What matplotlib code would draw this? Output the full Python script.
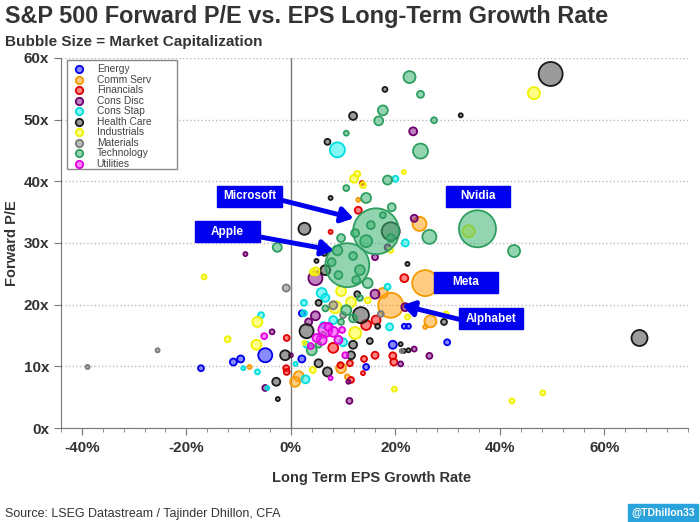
import numpy as np
import matplotlib.pyplot as plt
from matplotlib.patches import Rectangle
from matplotlib.ticker import MultipleLocator, FuncFormatter

plt.rcParams['font.family'] = ['Liberation Sans', 'DejaVu Sans']

# Donnees: croissance BPA long terme (%), P/E forward (x), capitalisation ($B)
sectors = ['Energy', 'Comm Serv', 'Financials', 'Cons Disc', 'Cons Stap',
           'Health Care', 'Industrials', 'Materials', 'Technology', 'Utilities']

energy_g = [-4.9, -17.2, -11.0, -9.6, 2.1, 2.1, 14.4, 19.5, 21.7, 22.5, 29.9]
energy_pe = [11.8, 9.7, 10.7, 11.2, 11.2, 18.6, 9.9, 13.5, 16.5, 16.5, 13.9]
energy_cap = [280, 50, 70, 70, 70, 50, 50, 90, 35, 35, 50]

comm_g = [25.7, 19.1, 24.6, 26.7, 25.7, 17.6, 1.5, 0.8, -7.9, 9.6, 10.8, 12.9]
comm_pe = [23.5, 19.9, 33.1, 17.3, 16.4, 21.9, 8.4, 7.5, 9.9, 9.7, 8.3, 37.0]
comm_cap = [960, 890, 280, 205, 23, 140, 140, 140, 23, 140, 35, 23]

fin_g = [12.9, 7.6, 21.7, 14.4, 16.3, -0.8, -0.9, -0.8, 8.1, 11.5, 16.1, 14.0,
         13.8, 19.5, 19.7, 11.3, 9.5, 13.6]
fin_pe = [35.3, 31.8, 24.3, 16.7, 17.5, 14.6, 9.7, 9.1, 13.0, 7.8, 11.8, 11.2,
          8.9, 11.7, 10.7, 10.5, 10.2, 39.7]
fin_cap = [70, 23, 90, 140, 115, 50, 50, 50, 140, 50, 70, 50,
           23, 70, 70, 50, 50, 23]

disc_g = [23.4, 23.6, -8.7, 4.7, 16.1, 16.1, 21.9, 4.7, -3.6, -4.9, 11.2, 23.6,
          26.5, 21.0, 11.0, 0.0, 18.5, 3.4]
disc_pe = [48.1, 34.0, 28.2, 24.3, 27.7, 21.7, 19.6, 18.2, 15.6, 6.5, 4.4, 12.8,
           11.7, 10.4, 7.5, 11.8, 29.3, 17.2]
disc_cap = [90, 70, 23, 280, 50, 115, 90, 115, 35, 50, 50, 35,
            50, 35, 23, 23, 50, 70]

stap_g = [8.9, 20.0, 21.9, 5.9, 6.6, 2.5, 18.9, -5.7, -9.1, -6.4, 2.8, 10.0,
          0.9, -4.5, 18.5, 2.5, 8.1, 6.2, 3.0]
stap_pe = [45.1, 40.4, 30.0, 21.9, 21.1, 20.3, 16.4, 18.3, 9.7, 9.1, 7.9, 13.9,
           10.4, 6.5, 22.9, 18.6, 17.5, 16.7, 13.5]
stap_cap = [320, 50, 70, 140, 90, 50, 70, 50, 23, 35, 90, 90,
            23, 23, 50, 50, 90, 50, 50]

hc_g = [49.7, 66.7, 18.0, 11.9, 32.5, 7.0, 7.6, 2.6, 19.1, 4.9, 6.6, 22.3,
        12.7, 5.3, 13.4, 3.0, -1.1, -2.8, -2.5, 7.0, 5.3, 11.9, 11.5, 15.1,
        16.6, 21.0, 21.6, 29.3, 22.5, 6.4]
hc_pe = [57.4, 14.6, 54.9, 50.6, 50.7, 46.4, 37.3, 32.3, 31.9, 27.1, 25.6, 26.6,
         21.7, 20.3, 18.3, 15.7, 11.8, 7.5, 4.7, 9.1, 10.5, 13.5, 11.8, 14.1,
         16.5, 13.6, 12.5, 17.2, 12.6, 28.4]
hc_cap = [820, 365, 35, 90, 23, 50, 23, 205, 460, 23, 140, 23,
          50, 50, 365, 280, 140, 90, 23, 115, 90, 90, 90, 50,
          35, 23, 23, 50, 23, 50]

ind_g = [46.5, 12.7, 12.1, 21.6, 19.1, -16.6, 4.7, 9.6, 8.5, 22.3, -6.4, -12.1,
         -6.6, 4.2, 12.3, 19.8, 42.3, 48.2, 29.7, 34.0, 11.5, 2.6, 4.2, 14.7, 13.8]
ind_pe = [54.3, 41.2, 40.4, 41.5, 28.8, 24.5, 25.4, 22.2, 19.6, 18.0, 17.2, 14.4,
          13.5, 9.4, 15.4, 6.3, 4.4, 5.7, 18.5, 31.9, 20.4, 13.8, 25.3, 20.7, 39.4]
ind_cap = [205, 50, 90, 23, 35, 35, 90, 140, 205, 35, 140, 50,
           140, 50, 205, 35, 35, 35, 35, 205, 140, 23, 50, 50, 50]

mat_g = [-0.9, -25.5, -38.9, 21.2, 8.1, 10.0, 6.2, 17.2]
mat_pe = [22.7, 12.6, 9.9, 12.5, 19.9, 18.3, 15.1, 18.5]
mat_cap = [70, 23, 23, 23, 90, 50, 50, 50]

tech_g = [16.3, 10.8, 35.7, 22.7, 24.8, 17.6, 16.8, 27.4, 10.6, 24.8, 18.5, 10.6,
          14.4, 19.3, 9.6, 26.5, 42.7, -2.6, 14.7, 14.4, 12.3, 8.9, 11.9, 13.2,
          9.1, 12.5, 7.8, 10.6, 11.9, 9.6, 4.0, 5.3, 13.2, 6.6, 15.3, 17.6, 19.1]
tech_pe = [31.9, 26.4, 32.3, 56.9, 54.1, 51.5, 49.8, 49.9, 47.8, 44.9, 40.2, 38.9,
           37.3, 35.8, 30.8, 31.0, 28.7, 29.3, 23.5, 30.3, 31.6, 28.8, 27.9, 25.6,
           24.8, 24.0, 26.9, 19.1, 17.8, 17.2, 12.6, 13.5, 21.1, 19.4, 32.9, 34.5, 30.8]
tech_cap = [3000, 2750, 1950, 205, 70, 140, 115, 50, 35, 320, 115, 50,
            140, 90, 90, 280, 205, 115, 140, 205, 90, 140, 90, 140,
            90, 90, 90, 140, 90, 50, 140, 50, 50, 50, 90, 50, 90]

util_g = [-5.1, 6.6, 8.1, 5.9, 7.2, 7.6, 10.4, 9.1, 4.9, 9.8, 3.8]
util_pe = [14.9, 15.9, 15.6, 14.3, 16.4, 8.1, 11.8, 14.3, 14.6, 15.9, 13.3]
util_cap = [50, 280, 140, 140, 90, 23, 50, 90, 90, 50, 50]

growth = [energy_g, comm_g, fin_g, disc_g, stap_g, hc_g, ind_g, mat_g, tech_g, util_g]
pe = [energy_pe, comm_pe, fin_pe, disc_pe, stap_pe, hc_pe, ind_pe, mat_pe, tech_pe, util_pe]
caps = [energy_cap, comm_cap, fin_cap, disc_cap, stap_cap, hc_cap, ind_cap, mat_cap, tech_cap, util_cap]

# couleurs: (remplissage, bord)
faces = ['#2a2aff', '#ffa31a', '#ff2020', '#8a1a8a', '#22f0f0',
         '#4a4a4a', '#ffff22', '#8a8a8a', '#3cb371', '#ff22ff']
edges = ['#0000ee', '#f59a00', '#e00000', '#6e006e', '#00dede',
         '#1a1a1a', '#f0f000', '#7a7a7a', '#2e9e60', '#e000e0']

# annotations: etiquette, centre boite, debut fleche, pointe fleche
callouts = [
    ('Microsoft', (-7.9, 37.6), (-1.6, 36.9), (12.0, 34.0)),
    ('Apple', (-12.1, 31.8), (-6.0, 31.0), (8.2, 28.8)),
    ('Nvidia', (35.8, 37.6), None, None),
    ('Meta', (33.5, 23.6), None, None),
    ('Alphabet', (38.3, 17.7), (32.8, 17.5), (21.3, 19.9)),
]

fig = plt.figure(figsize=(7, 5.22), dpi=100)
ax = fig.add_axes([0.087, 0.18, 0.896, 0.709])

for i, name in enumerate(sectors):
    s = np.array(caps[i]) * 0.364
    fc = list(plt.matplotlib.colors.to_rgba(faces[i], 0.55))
    ax.scatter(growth[i], pe[i], s=s, facecolors=[fc], edgecolors=edges[i],
               linewidths=1.3, zorder=3)
    ax.scatter([], [], s=28, facecolors=[fc], edgecolors=edges[i],
               linewidths=1.3, label=name)

ax.set_xlim(-44, 76)
ax.set_ylim(0, 60)
ax.axvline(0, color='#777777', lw=1, zorder=1)
ax.yaxis.set_major_locator(MultipleLocator(10))
ax.xaxis.set_major_locator(MultipleLocator(20))
ax.xaxis.set_minor_locator(MultipleLocator(4))
ax.yaxis.set_major_formatter(FuncFormatter(lambda v, p: f'{v:.0f}x'))
ax.xaxis.set_major_formatter(FuncFormatter(lambda v, p: f'{v:.0f}%'))
ax.grid(axis='y', color='#bbbbbb', linestyle=':', linewidth=1, zorder=0)
for sp in ['top', 'right']:
    ax.spines[sp].set_visible(False)
for sp in ['left', 'bottom']:
    ax.spines[sp].set_color('#777777')
ax.tick_params(axis='both', which='major', colors='#777777', labelcolor='#333333',
               labelsize=11, length=5)
ax.tick_params(axis='x', which='major', pad=4)
ax.tick_params(axis='x', which='minor', colors='#777777', length=3)
for lab in ax.get_xticklabels() + ax.get_yticklabels():
    lab.set_fontweight('bold')

# cadre de legende plus large que son contenu, comme dans l'original
ax.add_patch(Rectangle((0.0096, 0.70), 0.175, 0.2946, transform=ax.transAxes,
                       facecolor='white', edgecolor='#888888', lw=1, zorder=9))
leg = ax.legend(loc='upper left', bbox_to_anchor=(0.0096, 0.9946), fontsize=7.4,
                frameon=False, labelspacing=0.05, handletextpad=0.9,
                borderpad=0.4, handlelength=1.6, borderaxespad=0)
for t in leg.get_texts():
    t.set_color('#444444')
leg.set_zorder(10)

for label, (cx, cy), tail, tip in callouts:
    w, h = 12.3, 3.4
    ax.add_patch(Rectangle((cx - w / 2, cy - h / 2), w, h, facecolor='#0000ee',
                           edgecolor='#0000ee', zorder=6))
    ax.text(cx, cy, label, color='white', fontsize=8.5, fontweight='bold',
            ha='center', va='center', zorder=7)
    if tip is not None:
        ax.annotate('', xy=tip, xytext=tail, zorder=6,
                    arrowprops=dict(arrowstyle='-|>,head_length=0.7,head_width=0.45',
                                    color='#0000ee', lw=3.5, shrinkA=0, shrinkB=0))

fig.text(0.007, 0.99, 'S&P 500 Forward P/E vs. EPS Long-Term Growth Rate',
         fontsize=16.9, fontweight='bold', color='#333333', va='top')
fig.text(0.007, 0.933, 'Bubble Size = Market Capitalization', fontsize=11,
         fontweight='bold', color='#333333', va='top')
fig.text(12 / 700, 1 - 243 / 522, 'Forward P/E', fontsize=10.5, fontweight='bold',
         color='#333333', rotation=90, ha='center', va='center')
fig.text(372 / 700, 1 - 478 / 522, 'Long Term EPS Growth Rate', fontsize=10.5,
         fontweight='bold', color='#333333', ha='center', va='center')
fig.text(0.007, 1 - 514 / 522, 'Source: LSEG Datastream / Tajinder Dhillon, CFA',
         fontsize=9, color='#333333', va='center')
fig.text(663 / 700, 1 - 513 / 522, '@TDhillon33', fontsize=7.5, fontweight='bold',
         color='white', ha='center', va='center',
         bbox=dict(boxstyle='square,pad=0.35', facecolor='#2aa3dc', edgecolor='#2aa3dc'))

plt.savefig('out.png', dpi=100)
plt.close()
